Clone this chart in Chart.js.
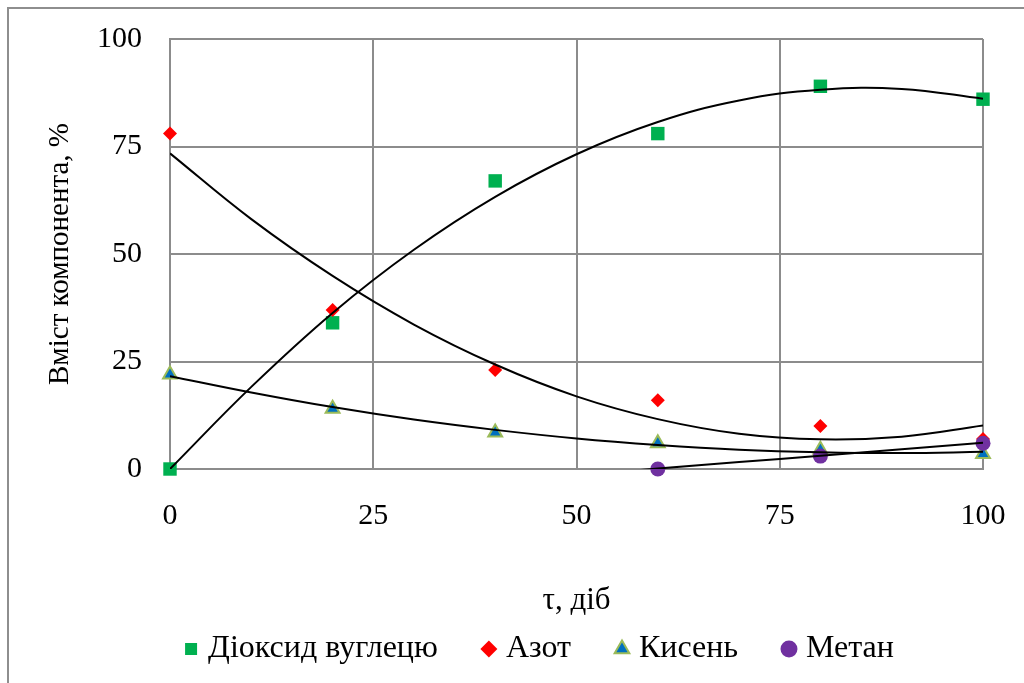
<!DOCTYPE html>
<html>
<head>
<meta charset="utf-8">
<script src="https://cdn.jsdelivr.net/npm/chart.js@4"></script>
<style>
  html, body { margin: 0; padding: 0; background: #fff; overflow: hidden; }
  #frame { position: absolute; left: 7px; top: 7px; width: 1100px; height: 800px;
    border-left: 2px solid #8e8e8e; border-top: 2px solid #8e8e8e; }
  #wrap { position: absolute; left: 0; top: 0; width: 1024px; height: 683px; }
</style>
</head>
<body>
<div id="frame"></div>
<div id="wrap"><canvas id="chart" width="1024" height="683"></canvas></div>
<script>
// measured points (days -> %)
const days = [0, 20, 40, 60, 80, 100];
const co2 = [0, 34, 67, 78, 89, 86];
const nitrogen = [78, 37, 23, 16, 10, 7];
const oxygen = [22, 14, 8.5, 6, 4.5, 3.5];
const methaneDays = [60, 80, 100];
const methane = [0, 3, 6];

// trendlines, every 10 days
const trendDays = [0, 10, 20, 30, 40, 50, 60, 70, 80, 90, 100];
const co2Trend = [0, 19.1, 36.3, 51, 63.3, 73.2, 80.7, 85.7, 88.2, 88.4, 86.1];
const nitrogenTrend = [73.4, 58.1, 44.9, 33.6, 24.3, 16.9, 11.6, 8.2, 6.9, 7.5, 10.1];
const oxygenTrend = [21.6, 17.8, 14.4, 11.5, 9.1, 7.1, 5.6, 4.5, 3.9, 3.7, 4];
const methaneTrendDays = [50, 60, 70, 80, 90, 100];
const methaneTrend = [-1.5, 0.1, 1.6, 3.1, 4.6, 6.1];

const names = ["Діоксид вуглецю", "Азот", "Кисень", "Метан"];
const xTicks = [0, 25, 50, 75, 100];
const yTicks = [0, 25, 50, 75, 100];

const FONT = "'Liberation Serif', 'Times New Roman', serif";
const GRID = "#8c8c8c";
const pts = (xs, ys) => xs.map((x, i) => ({ x, y: ys[i] }));

function marks(label, xs, ys, style, fill, stroke, r, order) {
  return { label, data: pts(xs, ys), pointStyle: style, pointRadius: r, pointHoverRadius: r,
    backgroundColor: fill, borderColor: stroke, borderWidth: stroke === fill ? 0 : 2,
    showLine: false, clip: false, order };
}
function trend(xs, ys) {
  return { label: "trend", trend: true, data: pts(xs, ys), showLine: true, tension: 0.4,
    pointRadius: 0, borderColor: "#000", borderWidth: 2, fill: false, order: 0 };
}

const datasets = [
  marks(names[0], days, co2, "rect", "#00b050", "#00b050", 9.5, 4),
  marks(names[1], days, nitrogen, "rectRot", "#ff0000", "#ff0000", 7, 3),
  marks(names[2], days, oxygen, "triangle", "#0070c0", "#9bbb59", 8, 2),
  marks(names[3], methaneDays, methane, "circle", "#7030a0", "#7030a0", 7.5, 1),
  trend(trendDays, co2Trend),
  trend(trendDays, nitrogenTrend),
  trend(trendDays, oxygenTrend),
  trend(methaneTrendDays, methaneTrend),
];

// legend sits under the axis title, a bit right of the plot centre
const legendSpot = {
  id: "legendSpot",
  afterLayout(chart) {
    const lg = chart.legend;
    if (!lg) return;
    const h = lg.bottom - lg.top;
    lg.top = 583; lg.bottom = 583 + h;
    lg.left = 75; lg.right = 1009;
  },
};

new Chart(document.getElementById("chart"), {
  type: "scatter",
  data: { datasets },
  plugins: [legendSpot],
  options: {
    responsive: false,
    animation: false,
    layout: { padding: { top: 39, right: 41, left: 0, bottom: -38 } },
    plugins: {
      tooltip: { enabled: false },
      legend: {
        position: "bottom",
        labels: {
          usePointStyle: true, boxWidth: 2, boxHeight: 12, padding: 50,
          color: "#000", font: { family: FONT, size: 32 },
          filter: (item, data) => !data.datasets[item.datasetIndex].trend,
          sort: (a, b) => a.datasetIndex - b.datasetIndex,
        },
      },
    },
    scales: {
      x: {
        type: "linear", min: 0, max: 100,
        afterBuildTicks: (s) => { s.ticks = xTicks.map(v => ({ value: v })); },
        afterFit: (s) => { s.height = 160; s.paddingLeft = 0; s.paddingRight = 0; },
        ticks: { color: "#000", padding: 29, font: { family: FONT, size: 30 } },
        grid: { color: GRID, lineWidth: 2, drawTicks: false },
        border: { color: GRID, width: 2 },
        title: { display: true, text: "τ, діб", color: "#000", padding: 10, font: { family: FONT, size: 31 } },
      },
      y: {
        type: "linear", min: 0, max: 100,
        afterBuildTicks: (s) => { s.ticks = yTicks.map(v => ({ value: v })); },
        afterFit: (s) => { s.width = 170; s.paddingTop = 0; s.paddingBottom = 0; },
        ticks: { color: "#000", padding: 28, font: { family: FONT, size: 30 } },
        grid: { color: GRID, lineWidth: 2, drawTicks: false },
        border: { color: GRID, width: 2 },
        title: { display: true, text: "Вміст компонента, %", color: "#000", padding: 43, font: { family: FONT, size: 29 } },
      },
    },
  },
});
</script>
</body>
</html>
